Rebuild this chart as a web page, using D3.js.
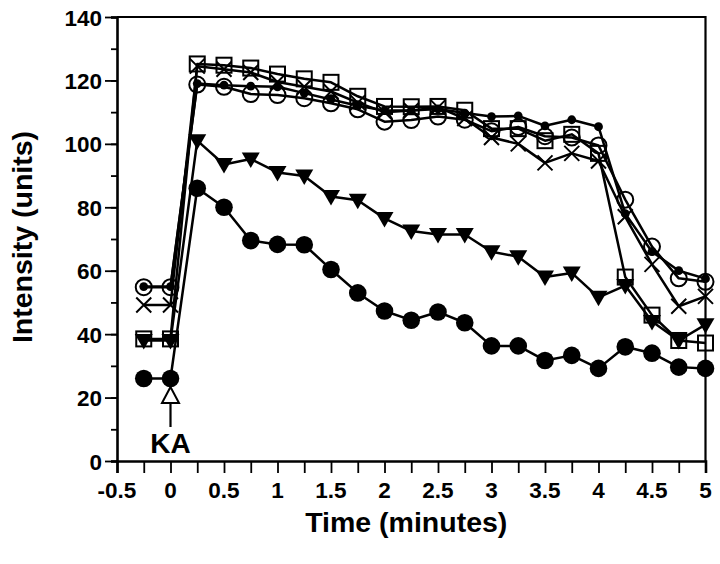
<!DOCTYPE html>
<html>
<head>
<meta charset="utf-8">
<script src="https://cdn.jsdelivr.net/npm/d3@7"></script>
<style>
  html, body { margin: 0; padding: 0; background: #fff; }
  svg text { font-family: "Liberation Sans", Arial, Helvetica, sans-serif; font-weight: bold; fill: #000; }
</style>
</head>
<body>
<svg id="chart" width="720" height="564"></svg>
<script>
// ---- data ----
const times = [-0.25, 0, 0.25, 0.5, 0.75, 1, 1.25, 1.5, 1.75, 2, 2.25, 2.5, 2.75, 3, 3.25, 3.5, 3.75, 4, 4.25, 4.5, 4.75, 5];
const bigDots   = [26, 26, 86, 80, 69.5, 68.3, 68.2, 60.4, 53, 47.3, 44.4, 47, 43.6, 36.3, 36.3, 31.7, 33.3, 29.2, 36, 34, 29.6, 29.2];
const triangles = [38, 38, 101, 93.5, 95.2, 91, 89.9, 83.4, 82.2, 76.5, 72.5, 71.4, 71.4, 66, 64.4, 58, 59.3, 51.6, 55.3, 44, 38, 43];
const squares   = [38.5, 38.5, 125.2, 124.8, 123.9, 122, 120.5, 119.4, 115, 111.8, 111.7, 111.8, 110.6, 104.8, 104.8, 101, 103, 97, 58, 46, 38, 37.2];
const circles   = [54.8, 54.8, 118.7, 118, 115.7, 115.4, 114.4, 112.8, 110.9, 107, 107.5, 108.6, 107.6, 104, 105.3, 102.4, 102, 99.5, 82.4, 67.6, 57.6, 56.5];
const smallDots = [55, 55, 119, 118.5, 118.2, 118, 116, 114, 112, 110.5, 110.5, 111, 109.7, 108.6, 108.8, 105.7, 107.6, 105.4, 78, 66, 60, 57.5];
const crosses   = [49.2, 49.2, 124.5, 123.5, 122.5, 119.5, 118, 116.5, 113, 110, 110.5, 111.5, 108, 102, 100, 94, 97, 94.6, 77, 62, 48.8, 51.9];
const xTicks = ["-0.5", "0", "0.5", "1", "1.5", "2", "2.5", "3", "3.5", "4", "4.5", "5"];
const xMinorTicks = d3.range(-0.5, 5.001, 0.25);
const yTicks = [0, 20, 40, 60, 80, 100, 120, 140];
const yMinorTicks = d3.range(0, 141, 10);
const xTitle = "Time (minutes)";
const yTitle = "Intensity (units)";
const annotation = { t: 0, label: "KA" };

// ---- layout ----
const L = 117, R = 705.5, T = 17, B = 461;
const x = d3.scaleLinear().domain([-0.5, 5]).range([L, R]);
const y = d3.scaleLinear().domain([0, 140]).range([B, T]);
const svg = d3.select("#chart");

// frame (top and right borders)
svg.append("path")
  .attr("d", `M${L},${T}H${R}V${B}`)
  .attr("fill", "none").attr("stroke", "#000").attr("stroke-width", 2.2);

// x axis
const xAxis = svg.append("g").attr("transform", `translate(0,${B})`)
  .call(d3.axisBottom(x).tickValues(xMinorTicks).tickSize(12).tickFormat(""));
xAxis.select(".domain").attr("stroke-width", 2.6);
xAxis.selectAll(".tick line").attr("stroke-width", 1.8);
svg.append("g").selectAll("text").data(xTicks).join("text")
  .attr("x", d => x(+d)).attr("y", B + 37)
  .attr("text-anchor", "middle").attr("font-size", 22.5)
  .text(d => d);

// y axis
const yAxisMinor = svg.append("g").attr("transform", `translate(${L},0)`)
  .call(d3.axisLeft(y).tickValues(yMinorTicks).tickSize(6).tickFormat(""));
yAxisMinor.select(".domain").attr("stroke-width", 2.6);
yAxisMinor.selectAll(".tick line").attr("stroke-width", 1.8);
const yAxisMajor = svg.append("g").attr("transform", `translate(${L},0)`)
  .call(d3.axisLeft(y).tickValues(yTicks).tickSize(12).tickPadding(3));
yAxisMajor.select(".domain").remove();
yAxisMajor.selectAll(".tick line").attr("stroke-width", 1.8);
yAxisMajor.selectAll(".tick text").attr("font-size", 22.5).attr("dy", "0.36em")
  .style("font-family", "'Liberation Sans', Arial, sans-serif").style("font-weight", "bold");

// titles
svg.append("text").attr("x", (L + R) / 2 - 5).attr("y", 532)
  .attr("text-anchor", "middle").attr("font-size", 28.5).text(xTitle);
svg.append("text").attr("transform", `translate(32,${(T + B) / 2 - 2}) rotate(-90)`)
  .attr("text-anchor", "middle").attr("font-size", 28.5).text(yTitle);

// ---- series ----
const line = d3.line().x((d, i) => x(times[i])).y(d => y(d));
const seriesList = [
  { name: "crosses", values: crosses, marker: "cross" },
  { name: "smallDots", values: smallDots, marker: "smalldot" },
  { name: "circles", values: circles, marker: "opencircle" },
  { name: "squares", values: squares, marker: "square" },
  { name: "triangles", values: triangles, marker: "triangle" },
  { name: "bigDots", values: bigDots, marker: "bigdot" }
];

seriesList.forEach(s => {
  svg.append("path").datum(s.values).attr("d", line)
    .attr("fill", "none").attr("stroke", "#000").attr("stroke-width", 2.5)
    .attr("stroke-linejoin", "round");
});

seriesList.forEach(s => {
  const g = svg.append("g");
  const pts = s.values.map((v, i) => [x(times[i]), y(v)]);
  if (s.marker === "bigdot") {
    g.selectAll("circle").data(pts).join("circle")
      .attr("cx", d => d[0]).attr("cy", d => d[1]).attr("r", 8.8).attr("fill", "#000");
  } else if (s.marker === "smalldot") {
    g.selectAll("circle").data(pts).join("circle")
      .attr("cx", d => d[0]).attr("cy", d => d[1]).attr("r", 4.4).attr("fill", "#000");
  } else if (s.marker === "opencircle") {
    g.selectAll("circle").data(pts).join("circle")
      .attr("cx", d => d[0]).attr("cy", d => d[1]).attr("r", 8)
      .attr("fill", "none").attr("stroke", "#000").attr("stroke-width", 2);
  } else if (s.marker === "square") {
    g.selectAll("rect").data(pts).join("rect")
      .attr("x", d => d[0] - 7.5).attr("y", d => d[1] - 7.5).attr("width", 15).attr("height", 15)
      .attr("fill", "none").attr("stroke", "#000").attr("stroke-width", 2);
  } else if (s.marker === "triangle") {
    g.selectAll("path").data(pts).join("path")
      .attr("d", d => `M${d[0] - 9},${d[1] - 6.5}L${d[0] + 9},${d[1] - 6.5}L${d[0]},${d[1] + 9}Z`)
      .attr("fill", "#000");
  } else if (s.marker === "cross") {
    g.selectAll("path").data(pts).join("path")
      .attr("d", d => `M${d[0] - 7.5},${d[1] - 7.5}L${d[0] + 7.5},${d[1] + 7.5}M${d[0] + 7.5},${d[1] - 7.5}L${d[0] - 7.5},${d[1] + 7.5}`)
      .attr("fill", "none").attr("stroke", "#000").attr("stroke-width", 2);
  }
});

// ---- KA annotation ----
const ax = x(annotation.t);
svg.append("path")
  .attr("d", `M${ax},${387}L${ax + 8.5},${403}L${ax - 8.5},${403}Z`)
  .attr("fill", "#fff").attr("stroke", "#000").attr("stroke-width", 2);
svg.append("line").attr("x1", ax).attr("x2", ax).attr("y1", 403).attr("y2", 427)
  .attr("stroke", "#000").attr("stroke-width", 2.2);
svg.append("text").attr("x", ax).attr("y", 453).attr("text-anchor", "middle")
  .attr("font-size", 28).text(annotation.label);
</script>
</body>
</html>
